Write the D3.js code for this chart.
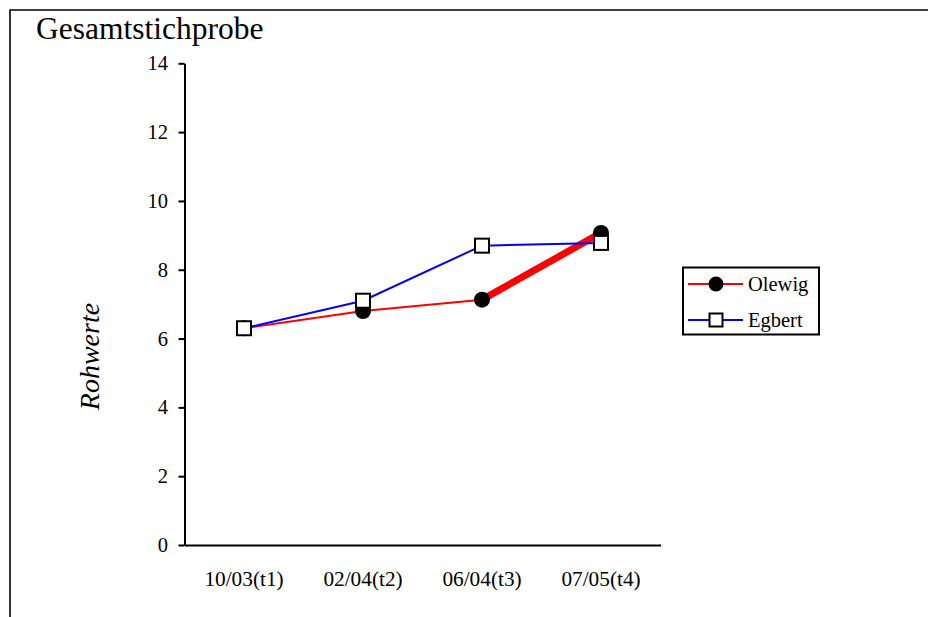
<!DOCTYPE html>
<html>
<head>
<meta charset="utf-8">
<script src="https://cdn.jsdelivr.net/npm/d3@7"></script>
<style>
  html, body { margin: 0; padding: 0; background: #fff; }
  svg, svg text { font-family: "Liberation Serif", "Times New Roman", Times, "DejaVu Serif", serif !important; }
  svg { display: block; }
</style>
</head>
<body>
<svg id="chart" width="928" height="617"></svg>
<script>
// Measurement points
const categories = ["10/03(t1)", "02/04(t2)", "06/04(t3)", "07/05(t4)"];
// Raw scores per group
const olewig = [6.3, 6.8, 7.13, 9.07];
const egbert = [6.3, 7.1, 8.7, 8.78];
const yTicks = [0, 2, 4, 6, 8, 10, 12, 14];
const seriesNames = ["Olewig", "Egbert"];

const svg = d3.select("#chart");

// Outer frame
svg.append("path")
  .attr("d", "M10,640 L10,10 L940,10")
  .attr("fill", "none")
  .attr("stroke", "#000")
  .attr("stroke-width", 1.6);

const x = d3.scaleBand().domain(categories).range([184.5, 660.5]);
const y = d3.scaleLinear().domain([0, 14]).range([545, 63.3]);

// Title
svg.append("text")
  .attr("x", 36).attr("y", 38.5)
  .attr("font-size", 31.5)
  .text("Gesamtstichprobe");

// Y axis
const yAxis = svg.append("g")
  .attr("transform", "translate(184.5,0)")
  .call(d3.axisLeft(y).tickValues(yTicks).tickSize(6).tickPadding(10.5).tickSizeOuter(0));
yAxis.attr("font-family", null);
yAxis.select(".domain").attr("stroke-width", 2);
yAxis.selectAll(".tick line").attr("stroke-width", 2);
yAxis.selectAll(".tick text").attr("font-size", 20.5);

// X axis (no ticks)
const xAxis = svg.append("g")
  .attr("transform", "translate(0,545)")
  .call(d3.axisBottom(x).tickSize(0).tickPadding(26));
xAxis.attr("font-family", null);
xAxis.select(".domain").attr("stroke-width", 2.2);
xAxis.selectAll(".tick text").attr("font-size", 21.3);

// Y axis title
svg.append("text")
  .attr("transform", "translate(99,356.5) rotate(-90)")
  .attr("text-anchor", "middle")
  .attr("font-size", 28)
  .attr("font-style", "italic")
  .text("Rohwerte");

const cx = d => x(d) + x.bandwidth() / 2;

// Olewig line: thin segments, last segment drawn heavy
for (let i = 0; i < olewig.length - 1; i++) {
  svg.append("line")
    .attr("x1", cx(categories[i])).attr("y1", y(olewig[i]))
    .attr("x2", cx(categories[i + 1])).attr("y2", y(olewig[i + 1]))
    .attr("stroke", "#ff0000")
    .attr("stroke-width", i === olewig.length - 2 ? 7 : 2)
    .attr("stroke-linecap", "butt");
}

// Egbert line
svg.append("path")
  .datum(egbert)
  .attr("fill", "none")
  .attr("stroke", "#0000ff")
  .attr("stroke-width", 2)
  .attr("d", d3.line().x((d, i) => cx(categories[i])).y(d => y(d)));

// Olewig markers
svg.selectAll(".ol").data(olewig).enter().append("circle")
  .attr("cx", (d, i) => cx(categories[i]))
  .attr("cy", d => y(d))
  .attr("r", 8)
  .attr("fill", "#000");

// Egbert markers
svg.selectAll(".eg").data(egbert).enter().append("rect")
  .attr("x", (d, i) => cx(categories[i]) - 7)
  .attr("y", d => y(d) - 7)
  .attr("width", 14).attr("height", 14)
  .attr("fill", "#fff")
  .attr("stroke", "#000")
  .attr("stroke-width", 2);

// Legend
const lg = svg.append("g");
lg.append("rect")
  .attr("x", 683).attr("y", 267.5)
  .attr("width", 136).attr("height", 67)
  .attr("fill", "#fff").attr("stroke", "#000").attr("stroke-width", 2);
const legendRows = [
  { name: seriesNames[0], color: "#ff0000", ty: 284 },
  { name: seriesNames[1], color: "#0000ff", ty: 320 }
];
legendRows.forEach((r, i) => {
  lg.append("line")
    .attr("x1", 688).attr("x2", 743)
    .attr("y1", r.ty).attr("y2", r.ty)
    .attr("stroke", r.color).attr("stroke-width", 2);
  if (i === 0) {
    lg.append("circle").attr("cx", 716).attr("cy", r.ty).attr("r", 7.5).attr("fill", "#000");
  } else {
    lg.append("rect").attr("x", 709.5).attr("y", r.ty - 6.5).attr("width", 13).attr("height", 13)
      .attr("fill", "#fff").attr("stroke", "#000").attr("stroke-width", 2);
  }
  lg.append("text")
    .attr("x", 748).attr("y", r.ty + 7)
    .attr("font-size", 20.5)
    .text(r.name);
});
</script>
</body>
</html>
